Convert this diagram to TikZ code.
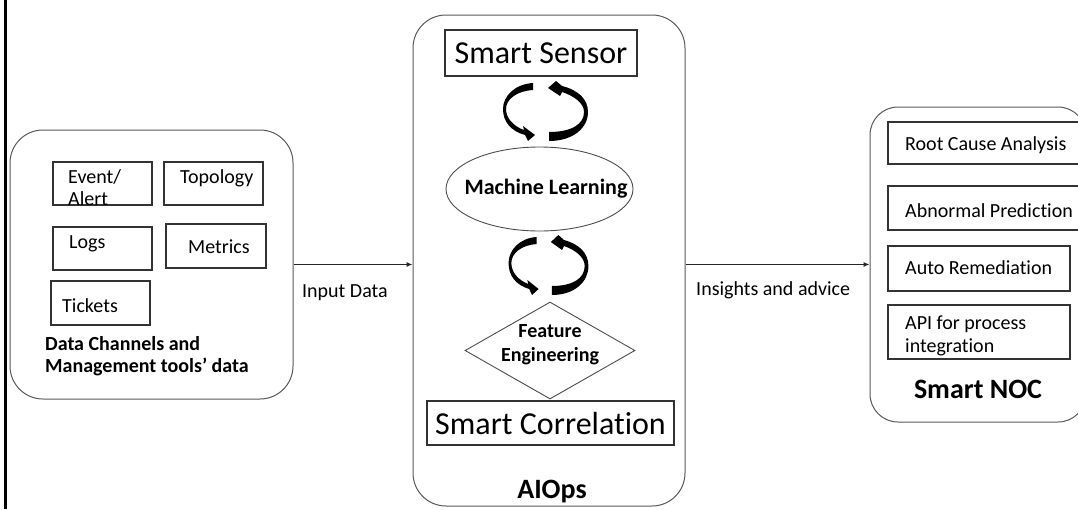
\documentclass[tikz,border=0pt]{standalone}
\usepackage{fontspec}
\setmainfont{Carlito}[Ligatures={NoCommon}]
\usetikzlibrary{shapes.geometric,arrows.meta}
\begin{document}
\begin{tikzpicture}[x=1pt,y=-1pt,
  bigbox/.style={draw=black!65, line width=1pt, rounded corners=33pt, inner sep=0pt},
  smallbox/.style={draw=black!80, line width=1.2pt, inner sep=0pt},
  outline/.style={draw=black!70, line width=0.9pt, inner sep=0pt},
  txt/.style={inner sep=0pt, anchor=base west, font=\fontsize{20}{24}\selectfont},
  btxt/.style={inner sep=0pt, anchor=base west, font=\bfseries\fontsize{20}{24}\selectfont},
  title/.style={inner sep=0pt, anchor=base, font=\bfseries\fontsize{28}{32}\selectfont},
  big/.style={font=\fontsize{32}{38}\selectfont},
  conn/.style={-{Latex[length=6pt,width=5pt]}, line width=1pt, black!85},
  cyc/.style={fill=black}
]
\clip (0,0) rectangle (1078,509);
\draw[line width=2.5pt] (5.5,0) -- (5.5,509);

% containers
\node[bigbox, minimum width=283pt, minimum height=269pt] (src) at (151.5,264.5) {};
\node[bigbox, minimum width=272pt, minimum height=491pt] (aiops) at (549,260.5) {};
\node[bigbox, rounded corners=28pt, minimum width=216pt, minimum height=315pt] (noc) at (978,264.5) {};

% connectors
\draw[conn] (src.east) -- (src.east -| aiops.west);
\draw[conn] (src.east -| aiops.east) -- (src.east -| noc.west);
\node[txt] (inlbl) at (302,297) {Input Data};
\node[txt] (outlbl) at (696,295) {Insights and advice};

% left items
\node[smallbox, minimum width=99pt, minimum height=43pt] (ev) at (102.5,183.5) {};
\node[smallbox, minimum width=99pt, minimum height=43pt] (topo) at (213.5,183.5) {};
\node[smallbox, minimum width=99pt, minimum height=43pt] (logs) at (102.5,248.5) {};
\node[smallbox, minimum width=100pt, minimum height=44pt] (met) at (216,246) {};
\node[smallbox, minimum width=99pt, minimum height=44pt] (tix) at (100.5,303) {};
\node[txt] (evt1) at (68,183) {Event/};
\node[txt] (evt2) at (68,205) {Alert};
\node[txt] (topot) at (180,183) {Topology};
\node[txt] (logst) at (69,248) {Logs};
\node[txt] (mett) at (188,253) {Metrics};
\node[txt] (tixt) at (62,312) {Tickets};
\node[btxt] (srct1) at (45,350) {Data Channels and};
\node[btxt] (srct2) at (45,372) {Management tools’ data};

% center items
\node[smallbox, big, minimum width=192pt, minimum height=46pt] (ss) at (541,53) {Smart Sensor};
\node[outline, ellipse, minimum width=187pt, minimum height=84pt] (ml) at (539.5,189) {};
\node[inner sep=0pt, anchor=base, font=\bfseries\fontsize{22}{26}\selectfont] (mlt) at (546,194) {Machine Learning};
\node[outline, diamond, minimum width=170pt, minimum height=97pt] (fe) at (550,350.5) {};
\node[inner sep=0pt, align=center, font=\bfseries\fontsize{20}{24}\selectfont] (fet) at (550,345) {Feature\\Engineering};
\node[smallbox, big, minimum width=247pt, minimum height=44pt] (sc) at (550.5,423) {Smart Correlation};
\node[title] (aiopst) at (552,498) {AIOps};

% cycle arrows
\foreach \cx/\cy/\sx in {545/112/1, 548/266/0.94}{
\begin{scope}[shift={(\cx,\cy)}, xscale=\sx]
\fill[cyc] (-12,-29) .. controls (-30,-28) and (-42,-16) .. (-42,-3)
   .. controls (-42,10) and (-34,19) .. (-20,23) -- (-17,29) -- (-10,23) -- (-22,14) -- (-21,18)
   .. controls (-32,14) and (-39,6) .. (-39,-3)
   .. controls (-39,-13) and (-28,-21) .. (-12,-22) -- cycle;
\fill[cyc] (4,29) .. controls (28,29) and (43,16) .. (43,0)
   .. controls (43,-13) and (33,-22) .. (17,-26) -- (11,-31) -- (3,-24) -- (15,-16) -- (17,-20)
   .. controls (29,-16) and (39,-9) .. (39,0)
   .. controls (39,12) and (27,20) .. (4,20) -- cycle;
\end{scope}
}

% right items
\node[smallbox, minimum width=202pt, minimum height=42pt] (rca) at (989,143) {};
\node[smallbox, minimum width=202pt, minimum height=44pt] (ap) at (989,208) {};
\node[smallbox, minimum width=182pt, minimum height=45pt] (ar) at (979,268.5) {};
\node[smallbox, minimum width=182pt, minimum height=54pt] (api) at (979,332) {};
\node[txt] (rcat) at (905,150) {Root Cause Analysis};
\node[txt] (apt) at (905,217) {Abnormal Prediction};
\node[txt] (art) at (905,274) {Auto Remediation};
\node[txt] (apit1) at (905,329) {API for process};
\node[txt] (apit2) at (905,352) {integration};
\node[title] (noct) at (978,398) {Smart NOC};
\end{tikzpicture}
\end{document}
